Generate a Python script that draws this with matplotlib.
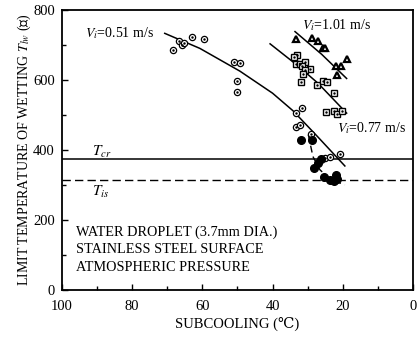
import numpy as np
import matplotlib
matplotlib.use("Agg")
import matplotlib.pyplot as plt

plt.rcParams['font.family'] = ['Liberation Serif', 'DejaVu Serif']
plt.rcParams['mathtext.fontset'] = 'stix'

# === Data ===
# Vi = 0.51 m/s, open circles
circ_x = [68.4, 66.6, 65.9, 65.2, 63.0, 59.5, 51.0, 49.3, 50.0, 50.2,
          33.4, 31.6, 33.3, 32.2, 29.1, 25.1, 23.6, 20.8]
circ_y = [686, 712, 700, 705, 722, 717, 651, 648, 596, 565,
          505, 519, 465, 471, 446, 377, 379, 389]
# Vi = 0.51 m/s, filled circles (below Tcr)
fill_x = [32.0, 28.9, 26.3, 27.0, 28.1, 25.4, 23.6, 21.9, 21.6, 22.5]
fill_y = [427, 427, 373, 363, 348, 322, 315, 329, 318, 310]
# Vi = 0.77 m/s, squares
sq_x = [33.1, 33.8, 33.3, 32.2, 30.8, 31.7, 29.3, 30.8, 31.4, 32.0,
        27.4, 25.5, 24.4, 22.4, 24.8, 22.4, 21.6, 20.3]
sq_y = [672, 664, 646, 645, 650, 639, 632, 629, 617, 594,
        585, 596, 594, 563, 509, 511, 503, 511]
# Vi = 1.01 m/s, triangles
tri_x = [33.3, 28.9, 27.0, 25.7, 25.1, 18.9, 21.9, 20.6, 21.6]
tri_y = [717, 721, 712, 691, 691, 659, 639, 639, 613]

# fitted curves
fit051_x = [70.7, 60.7, 49.3, 40.0, 34.2, 27.0, 19.4]
fit051_y = [733, 690, 625, 562, 512, 436, 354]
fit077_x = [40.7, 33.0, 27.0, 18.9]
fit077_y = [703, 642, 590, 505]
fit101_x = [33.6, 26.0, 18.9]
fit101_y = [738, 673, 604]
fitfill_x = [29.8, 28.5, 26.5, 24.0, 21.5, 19.4]
fitfill_y = [443, 381, 343, 320, 308, 300]

T_cr = 374
T_is = 314

fig = plt.figure(figsize=(4.18, 3.41), dpi=100)
ax = fig.add_axes([0.148, 0.150, 0.840, 0.821])

k = dict(color='black', lw=1.1)
ax.plot(fit051_x, fit051_y, **k)
ax.plot(fit077_x, fit077_y, **k)
ax.plot(fit101_x, fit101_y, **k)
ax.plot(fitfill_x, fitfill_y, color='black', lw=1.0, ls=(0, (5, 3)))

ax.axhline(T_cr, color='black', lw=1.1)
ax.axhline(T_is, color='black', lw=1.0, ls=(0, (6, 3)))

ms = 4.5
ax.plot(circ_x, circ_y, 'o', ms=ms, mfc='white', mec='black', mew=0.9)
ax.plot(circ_x, circ_y, '.', ms=1.5, color='black')
ax.plot(fill_x, fill_y, 'o', ms=5.5, color='black')
ax.plot(sq_x, sq_y, 's', ms=4, mfc='white', mec='black', mew=1.0)
ax.plot(sq_x, sq_y, '.', ms=1.5, color='black')
ax.plot(tri_x, tri_y, '^', ms=5, mfc='white', mec='black', mew=1.6)

# labels
ax.text(93.4, 734, r'$V_i$=0.51 m/s', fontsize=10, va='center')
ax.text(31.7, 757, r'$V_i$=1.01 m/s', fontsize=10, va='center')
ax.text(21.7, 463, r'$V_i$=0.77 m/s', fontsize=10, va='center')
ax.text(91.5, 394, r'$T_{cr}$', fontsize=11, va='center')
ax.text(91.5, 280, r'$T_{is}$', fontsize=11, va='center')
ax.text(96, 166, 'WATER DROPLET (3.7mm DIA.)', fontsize=10.3, va='center')
ax.text(96, 114, 'STAINLESS STEEL SURFACE', fontsize=10.3, va='center')
ax.text(96, 63, 'ATMOSPHERIC PRESSURE', fontsize=10.3, va='center')

ax.set_xlim(100, 0)
ax.set_ylim(0, 800)
ax.set_xticks(np.arange(100, -1, -20))
ax.set_xticks(np.arange(100, -1, -10), minor=True)
ax.set_yticks(np.arange(0, 801, 200))
ax.set_yticks(np.arange(0, 801, 100), minor=True)
ax.tick_params(which='both', direction='in', labelsize=10.5, width=1.0)
ax.tick_params(which='major', length=4)
ax.tick_params(which='minor', length=3)
ax.tick_params(axis='x', which='major', pad=7)
ax.tick_params(axis='y', which='major', pad=5)
for s in ax.spines.values():
    s.set_linewidth(1.3)

ax.set_xlabel('SUBCOOLING (℃)', fontsize=10.5, labelpad=3)
ax.set_ylabel(r'LIMIT TEMPERATURE OF WETTING $T_{lw}$ (℃)', fontsize=10, labelpad=0)

fig.savefig('out.png', dpi=100)
